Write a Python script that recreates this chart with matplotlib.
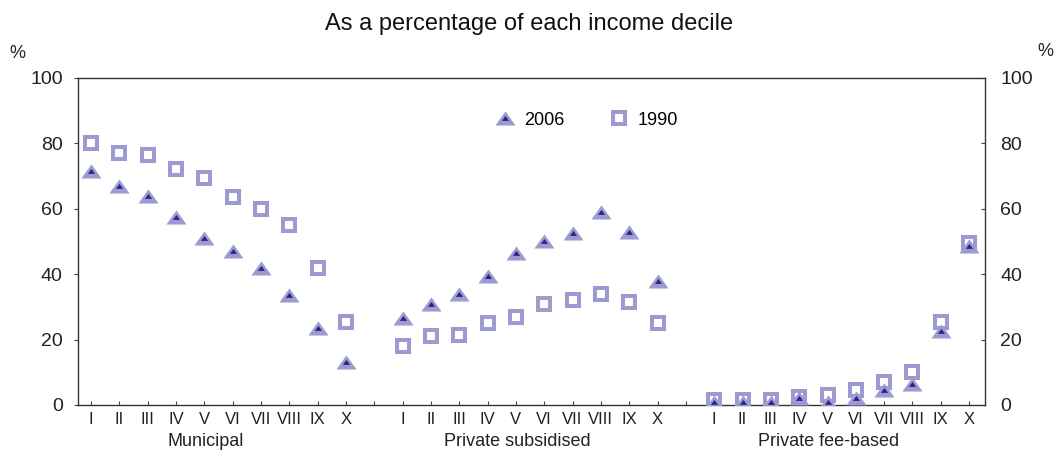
import matplotlib
matplotlib.use("Agg")
import matplotlib.pyplot as plt
import numpy as np
from matplotlib.path import Path
from matplotlib.transforms import blended_transform_factory

plt.rcParams['font.family'] = ['Liberation Sans', 'DejaVu Sans']

groups = ["Municipal", "Private subsidised", "Private fee-based"]
deciles = ["I", "II", "III", "IV", "V", "VI", "VII", "VIII", "IX", "X"]

municipal_2006 = [71.5, 67, 64, 57.5, 51, 47, 42, 33.5, 23.5, 13]
municipal_1990 = [80, 77, 76.5, 72, 69.5, 63.5, 60, 55, 42, 25.5]
subsidised_2006 = [26.5, 31, 34, 39.5, 46.5, 50, 52.5, 59, 53, 38]
subsidised_1990 = [18, 21, 21.5, 25, 27, 31, 32, 34, 31.5, 25]
fee_2006 = [1, 1, 1, 2, 1, 2, 4.6, 6.5, 22.5, 48.5]
fee_1990 = [1.5, 1.5, 1.5, 2.5, 3, 4.6, 7, 10, 25.5, 49.5]

series_2006 = [municipal_2006, subsidised_2006, fee_2006]
series_1990 = [municipal_1990, subsidised_1990, fee_1990]

light = '#9c9ad0'
dark = '#252588'
tri = Path([(-1, -0.7), (1, -0.7), (0, 0.7), (-1, -0.7)],
           [Path.MOVETO, Path.LINETO, Path.LINETO, Path.CLOSEPOLY])

fig = plt.figure(figsize=(10.58, 4.53), dpi=100)
ax = fig.add_axes([0.0737, 0.106, 0.8573, 0.722])

n = len(deciles)
xs_all, lbl_all = [], []
h_sq = h_tri = h_in = None
for gi, g in enumerate(groups):
    x = np.arange(n) + gi * (n + 1)
    h_sq, = ax.plot(x, series_1990[gi], linestyle='none', marker='s', ms=8.4,
                    mfc='white', mec=light, mew=2.9, zorder=3)
    h_tri, = ax.plot(x, series_2006[gi], linestyle='none', marker=tri, ms=13.8,
                     mfc=light, mec=light, mew=0.3, zorder=4)
    h_in, = ax.plot(x, series_2006[gi], linestyle='none', marker=tri, ms=4.8,
                    mfc=dark, mec=dark, mew=0.2, zorder=5)
    xs_all.extend(list(x))
    lbl_all.extend(deciles)

total = len(groups) * (n + 1) - 1
ax.set_xlim(-0.46, total - 0.44)
ax.set_ylim(0, 100)

ax.set_xticks(xs_all, minor=False)
ax.set_xticklabels(lbl_all, fontsize=12, color='#222222')
ax.set_xticks(np.arange(total), minor=True)
ax.tick_params(axis='x', which='both', direction='in', length=3, width=0.8,
               pad=5, color='#444444')

ax.set_yticks(np.arange(0, 101, 20))
ax.tick_params(axis='y', which='both', direction='out', length=3, width=0.8,
               labelsize=14, pad=8, color='#444444', labelcolor='#222222',
               right=True, labelright=True)
for t in ax.yaxis.get_major_ticks():
    t.tick2line.set_marker(matplotlib.lines.TICKLEFT)

for s in ax.spines.values():
    s.set_color('#333333')
    s.set_linewidth(1.0)

trans = blended_transform_factory(ax.transData, ax.transAxes)
for gi, g in enumerate(groups):
    cx = gi * (n + 1) + (n - 1) / 2 - 0.45
    ax.text(cx, -0.113, g, transform=trans, ha='center', va='center',
            fontsize=13, color='#222222')

fig.text(0.5, 0.948, "As a percentage of each income decile", ha='center',
         va='center', fontsize=17, color='#111111')
fig.text(0.016, 0.882, "%", ha='center', va='center', fontsize=13, color='#222222')
fig.text(0.988, 0.886, "%", ha='center', va='center', fontsize=13, color='#222222')

ax.legend([(h_tri, h_in), h_sq], ["2006", "1990"], ncol=2, frameon=False,
          loc='center', bbox_to_anchor=(0.554, 0.735), bbox_transform=fig.transFigure,
          fontsize=13, handlelength=1.2, handletextpad=0.45, columnspacing=2.4)

fig.savefig("out.png", dpi=100)
